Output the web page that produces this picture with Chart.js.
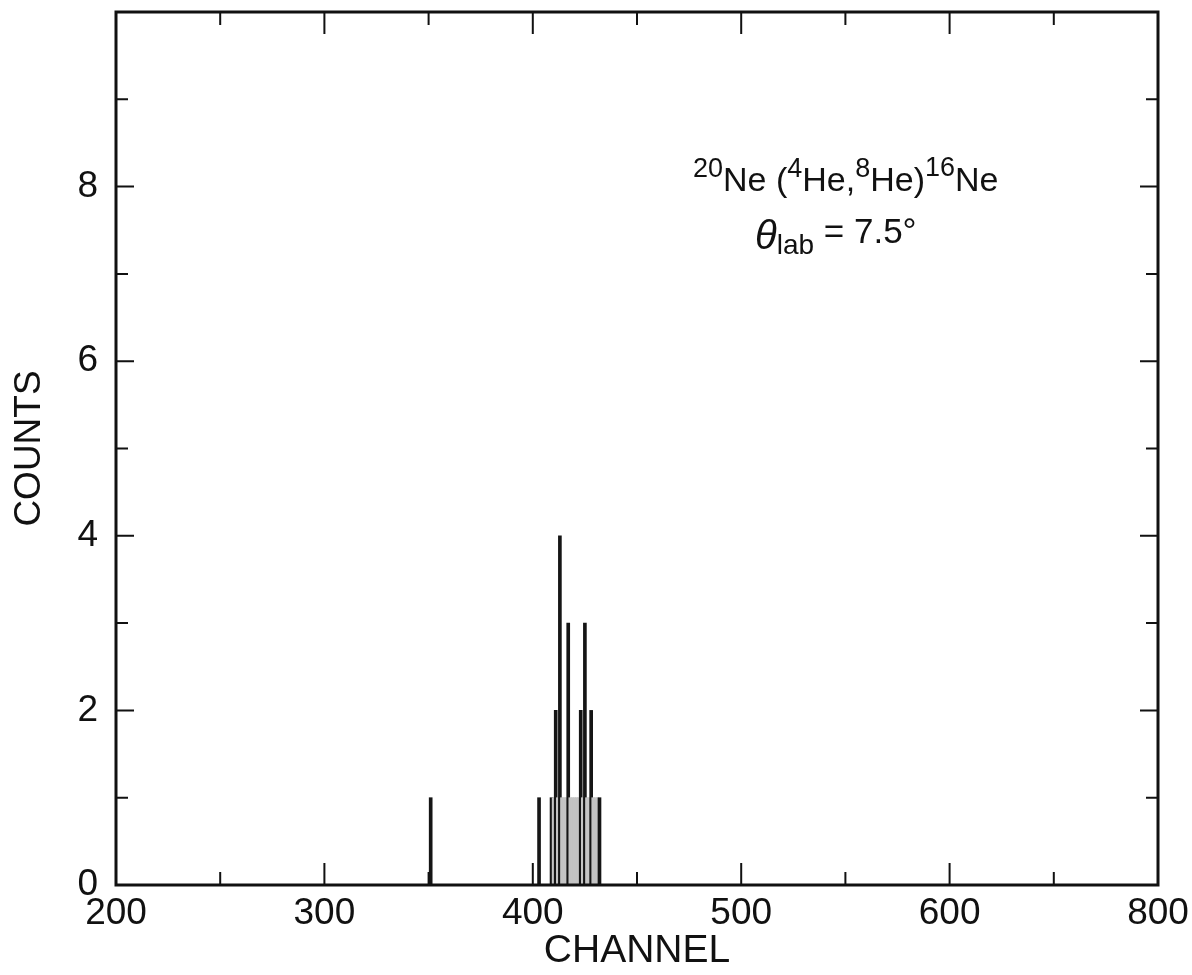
<!DOCTYPE html>
<html>
<head>
<meta charset="utf-8">
<script src="https://cdn.jsdelivr.net/npm/chart.js@4/dist/chart.umd.min.js"></script>
<style>
  body { margin: 0; background: #fff; }
  #wrap { width: 1192px; height: 975px; }
</style>
</head>
<body>
<div id="wrap"><canvas id="spectrum" width="1192" height="975"></canvas></div>
<script>
// channel numbers and counts
var channels = [351, 403, 409, 410, 411, 412, 413, 414, 415, 416, 417, 418, 419,
                420, 421, 422, 423, 424, 425, 426, 427, 428, 429, 430, 431, 432];
var counts   = [1, 1, 1, 1, 2, 1, 4, 1, 1, 1, 3, 1, 1,
                1, 1, 1, 2, 1, 3, 1, 1, 2, 1, 1, 1, 1];

// the printed x axis: 5 major divisions, last one labelled 800
var xTickValues = [200, 300, 400, 500, 600, 700];
var xTickLabels = ['200', '300', '400', '500', '600', '800'];
var yTickLabels = ['0', '2', '4', '6', '8'];

var points = channels.map(function(c, i) { return { x: c, y: counts[i] }; });

var font = "'Liberation Sans', Arial, sans-serif";

// dark strokes on histogram edges and on the taller bins, grey fill inside runs
function barColour(ctx) {
    var p = ctx.raw;
    if (!p) return '#151515';
    var left = channels.indexOf(p.x - 1) < 0;
    var right = channels.indexOf(p.x + 1) < 0;
    if (p.y > 1 || left || right) return '#151515';
    return '#c4c4c4';
}

var frame = {
    id: 'frame',
    afterDraw: function(chart) {
        var ctx = chart.ctx;
        var a = chart.chartArea;
        var xs = chart.scales.x, ys = chart.scales.y;
        ctx.save();
        ctx.strokeStyle = '#111';
        ctx.lineWidth = 3;
        ctx.strokeRect(a.left, a.top, a.right - a.left, a.bottom - a.top);

        ctx.lineWidth = 2;
        ctx.beginPath();
        for (var v = 250; v < 700; v += 50) {
            var px = xs.getPixelForValue(v);
            var len = (v % 100 === 0) ? 22 : 13;
            ctx.moveTo(px, a.bottom); ctx.lineTo(px, a.bottom - len);
            ctx.moveTo(px, a.top); ctx.lineTo(px, a.top + len);
        }
        for (var k = 1; k < 10; k++) {
            var py = ys.getPixelForValue(k);
            var l2 = (k % 2 === 0) ? 18 : 12;
            ctx.moveTo(a.left, py); ctx.lineTo(a.left + l2, py);
            ctx.moveTo(a.right, py); ctx.lineTo(a.right - l2, py);
        }
        ctx.stroke();

        // reaction label
        ctx.fillStyle = '#111';
        ctx.textBaseline = 'alphabetic';
        var parts = [
            ['20', 27, 177], ['Ne (', 34, 191], ['4', 27, 177], ['He,', 34, 191],
            ['8', 27, 177], ['He)', 34, 191], ['16', 27, 176], ['Ne', 34, 191]
        ];
        var x = 693;
        parts.forEach(function(p) {
            ctx.font = p[1] + 'px ' + font;
            ctx.fillText(p[0], x, p[2]);
            x += ctx.measureText(p[0]).width;
        });

        var line2 = [
            ['\u03b8', 'italic 40px ', 249], ['lab', '28px ', 254], [' = 7.5\u00b0', '35px ', 243]
        ];
        x = 755;
        line2.forEach(function(p) {
            ctx.font = p[1] + font;
            ctx.fillText(p[0], x, p[2]);
            x += ctx.measureText(p[0]).width;
        });
        ctx.restore();
    }
};

new Chart(document.getElementById('spectrum'), {
    type: 'bar',
    data: {
        datasets: [{
            data: points,
            backgroundColor: barColour,
            borderWidth: 0,
            barThickness: 3,
            barPercentage: 1,
            categoryPercentage: 1
        }]
    },
    options: {
        responsive: false,
        animation: false,
        layout: { padding: { top: 12, right: 34, left: 0, bottom: 0 } },
        plugins: {
            legend: { display: false },
            tooltip: { enabled: false }
        },
        scales: {
            x: {
                type: 'linear',
                min: 200,
                max: 700,
                offset: false,
                grid: { display: false },
                border: { display: false },
                afterFit: function(s) {
                    s.height = 90;
                    s.paddingLeft = 0;
                    s.paddingRight = 0;
                },
                afterBuildTicks: function(s) {
                    s.ticks = xTickValues.map(function(v) { return { value: v }; });
                },
                ticks: {
                    autoSkip: false,
                    maxRotation: 0,
                    padding: -1,
                    color: '#111',
                    font: { family: font, size: 37 },
                    callback: function(v) {
                        var i = xTickValues.indexOf(v);
                        return i < 0 ? '' : xTickLabels[i];
                    }
                },
                title: {
                    display: true,
                    text: 'CHANNEL',
                    color: '#111',
                    font: { family: font, size: 39 },
                    padding: { top: 0, bottom: 0 }
                }
            },
            y: {
                min: 0,
                max: 10,
                grid: { display: false },
                border: { display: false },
                afterFit: function(s) {
                    s.width = 116;
                    s.paddingTop = 0;
                    s.paddingBottom = 0;
                },
                ticks: {
                    stepSize: 2,
                    padding: 10,
                    color: '#111',
                    font: { family: font, size: 37 },
                    callback: function(v) {
                        var i = v / 2;
                        return yTickLabels[i] !== undefined ? yTickLabels[i] : '';
                    }
                },
                title: {
                    display: true,
                    text: 'COUNTS',
                    color: '#111',
                    font: { family: font, size: 37 },
                    padding: { top: 8, bottom: 0 }
                }
            }
        }
    },
    plugins: [frame]
});
</script>
</body>
</html>
